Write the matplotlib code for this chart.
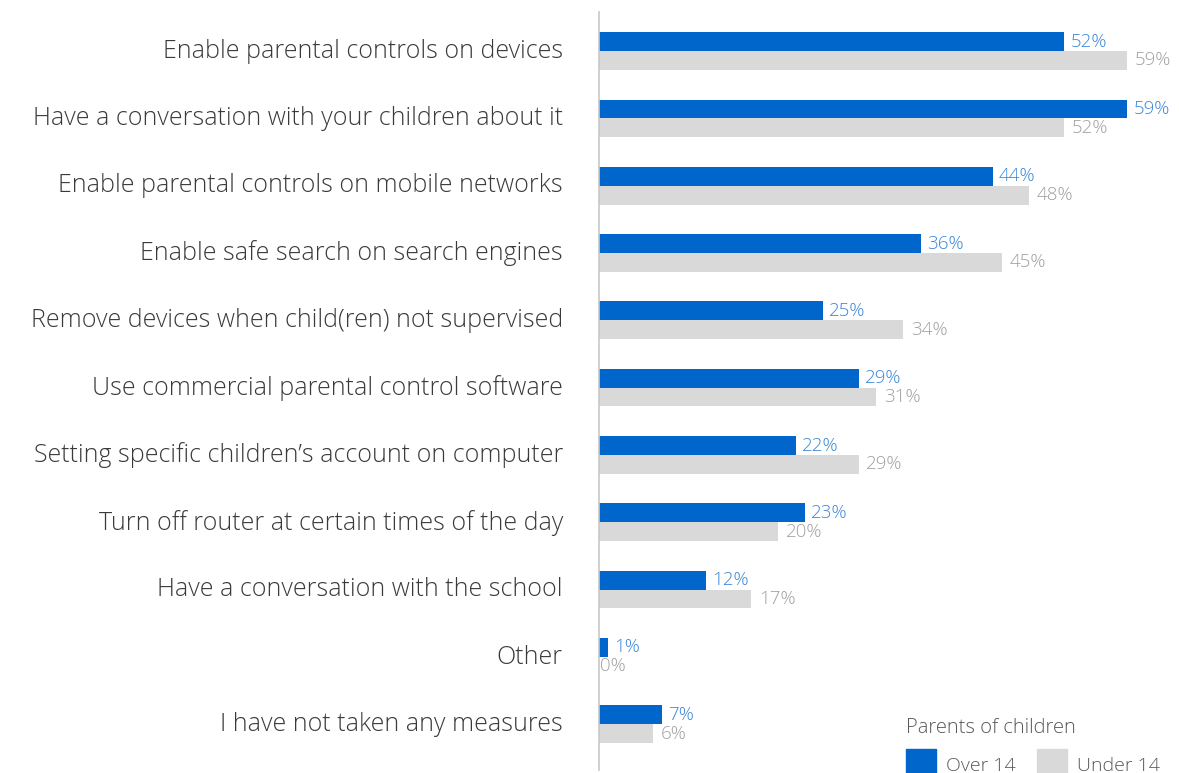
import matplotlib

matplotlib.use("Agg")
import matplotlib.pyplot as plt
from matplotlib.patches import Rectangle

measures = [
    "Enable parental controls on devices",
    "Have a conversation with your children about it",
    "Enable parental controls on mobile networks",
    "Enable safe search on search engines",
    "Remove devices when child(ren) not supervised",
    "Use commercial parental control software",
    "Setting specific children\u2019s account on computer",
    "Turn off router at certain times of the day",
    "Have a conversation with the school",
    "Other",
    "I have not taken any measures",
]
over_14 = [52, 59, 44, 36, 25, 29, 22, 23, 12, 1, 7]
under_14 = [59, 52, 48, 45, 34, 31, 29, 20, 17, 0, 6]
series_names = ["Over 14", "Under 14"]
legend_title = "Parents of children"

BLUE = "#0066cc"
GREY = "#d9d9d9"
BLUE_TXT = "#3a86d8"
GREY_TXT = "#a0a0a0"
LABEL_TXT = "#3a3a3a"
FONT = "Open Sans"
WEIGHT = "light"

W, H = 1179, 773
fig = plt.figure(figsize=(W / 100, H / 100), dpi=100)
ax = fig.add_axes([599 / W, 1 - 770 / H, (W - 599) / W, 758 / H])

bar_h = 0.28
ys = list(range(len(measures)))
ax.barh([y - bar_h / 2 for y in ys], over_14, height=bar_h, color=BLUE)
ax.barh([y + bar_h / 2 for y in ys], under_14, height=bar_h, color=GREY)

for y, v in zip(ys, over_14):
    ax.annotate(f"{v}%", (v, y - bar_h / 2), xytext=(4.5, 0), textcoords="offset points",
                va="center", ha="left", color=BLUE_TXT, fontsize=13.5,
                family=FONT, fontweight=WEIGHT)
for y, v in zip(ys, under_14):
    ax.annotate(f"{v}%", (v, y + bar_h / 2), xytext=(5.5 if v else 1, 0), textcoords="offset points",
                va="center", ha="left", color=GREY_TXT, fontsize=13.5,
                family=FONT, fontweight=WEIGHT)

ax.set_xlim(0, (W - 599) / 8.95)
ax.set_ylim(10.68, -0.58)
ax.set_yticks([y - 0.04 for y in ys])
ax.set_yticklabels(measures, fontsize=18, color=LABEL_TXT, family=FONT, fontweight=WEIGHT)
ax.tick_params(axis="y", length=0, pad=26)
ax.set_xticks([])
for side in ("top", "right", "bottom"):
    ax.spines[side].set_visible(False)
ax.spines["left"].set_color("#c8c8c8")
ax.spines["left"].set_linewidth(1.2)

# legend drawn in figure pixel coordinates
fig.text(906 / W, 1 - 728 / H, legend_title, fontsize=14.5, color="#595959",
         family=FONT, fontweight=WEIGHT, va="center", ha="left")
for x0, color, name, tx in [(906, BLUE, series_names[0], 946), (1037, GREY, series_names[1], 1077)]:
    fig.patches.append(Rectangle((x0 / W, 1 - 773 / H), 30 / W, 24 / H,
                                 transform=fig.transFigure, color=color))
    fig.text(tx / W, 1 - 766 / H, name, fontsize=14, color="#595959",
             family=FONT, fontweight=WEIGHT, va="center", ha="left")

fig.savefig("out.png", dpi=100)
